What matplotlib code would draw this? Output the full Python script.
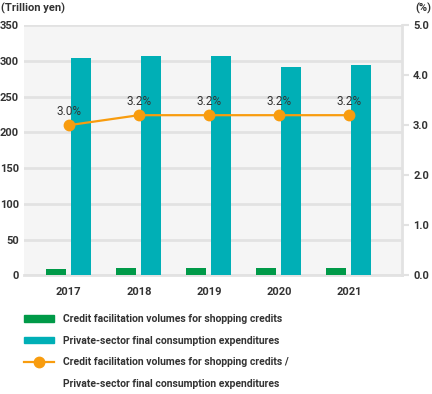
import matplotlib.pyplot as plt
from matplotlib.patches import Patch
from matplotlib.lines import Line2D
import numpy as np

plt.rcParams['font.family'] = ['Roboto', 'DejaVu Sans']

years = ['2017', '2018', '2019', '2020', '2021']
credit = [9.2, 10.0, 10.0, 9.8, 9.9]
consumption = [304, 307, 307, 291, 294]
ratio = [3.0, 3.2, 3.2, 3.2, 3.2]

green = '#009a48'
teal = '#00afb6'
orange = '#f89c0e'
txt = '#333333'
grid = '#e2e2e2'

fig = plt.figure(figsize=(4.32, 3.94), dpi=100)
ax = fig.add_axes([0.0556, 0.3008, 0.875, 0.6357])
ax.set_facecolor('#f5f5f5')

x = np.arange(len(years))
w = 0.285
ax.bar(x - 0.18, credit, w, color=green, zorder=3)
ax.bar(x + 0.175, consumption, w, color=teal, zorder=3)

ax.set_xlim(-0.64, 4.76)
ax.set_ylim(0, 350)
ax.set_yticks(range(0, 351, 50))
ax.yaxis.grid(True, color=grid, lw=2)
ax.set_axisbelow(True)
for s in ['top', 'left']:
    ax.spines[s].set_visible(False)
ax.spines['bottom'].set_color(grid)
ax.spines['bottom'].set_linewidth(2)
ax.spines['right'].set_color(grid)
ax.spines['right'].set_linewidth(2)
ax.tick_params(axis='y', length=0, pad=3.5, labelsize=8, labelcolor=txt)
ax.set_xticks(x)
ax.set_xticklabels(years, fontweight='bold')
ax.tick_params(axis='x', length=0, pad=8, labelsize=8, labelcolor=txt)
for lab in ax.get_yticklabels():
    lab.set_fontweight('bold')

ax2 = ax.twinx()
ax2.set_ylim(0, 5.0)
ax2.set_yticks(np.arange(0, 5.01, 1.0))
ax2.set_yticklabels(['%.1f' % v for v in np.arange(0, 5.01, 1.0)], fontweight='bold')
for s in ['top', 'left', 'bottom', 'right']:
    ax2.spines[s].set_visible(False)
ax2.tick_params(axis='y', length=5, width=1.5, color=grid, pad=3, labelsize=8, labelcolor=txt)
ax2.plot(x, ratio, color=orange, lw=1.6, marker='o', ms=7.5, zorder=4)
for xi, r in zip(x, ratio):
    ax2.annotate('%.1f%%' % r, (xi, r), xytext=(0, 5), textcoords='offset points',
                 ha='center', va='bottom', fontsize=8.5, color=txt)

fig.text(0.003, 0.978, '(Trillion yen)', fontsize=8, fontweight='bold', color=txt, va='center')
fig.text(0.998, 0.978, '(%)', fontsize=8, fontweight='bold', color=txt, va='center', ha='right')

handles = [
    Patch(color=green),
    Patch(color=teal),
    Line2D([], [], color=orange, lw=1.6, marker='o', ms=7.5),
    Line2D([], [], color='none'),
]
labels = [
    'Credit facilitation volumes for shopping credits',
    'Private-sector final consumption expenditures',
    'Credit facilitation volumes for shopping credits /',
    'Private-sector final consumption expenditures',
]
leg = fig.legend(handles, labels, loc='upper left', bbox_to_anchor=(0.0556, 0.203),
                 frameon=False, handlelength=2.9, handleheight=0.6, handletextpad=0.85,
                 labelspacing=1.12, borderaxespad=0, borderpad=0,
                 prop={'size': 7.5, 'weight': 'bold'})
for t in leg.get_texts():
    t.set_color(txt)

fig.savefig('out.png', dpi=100)
